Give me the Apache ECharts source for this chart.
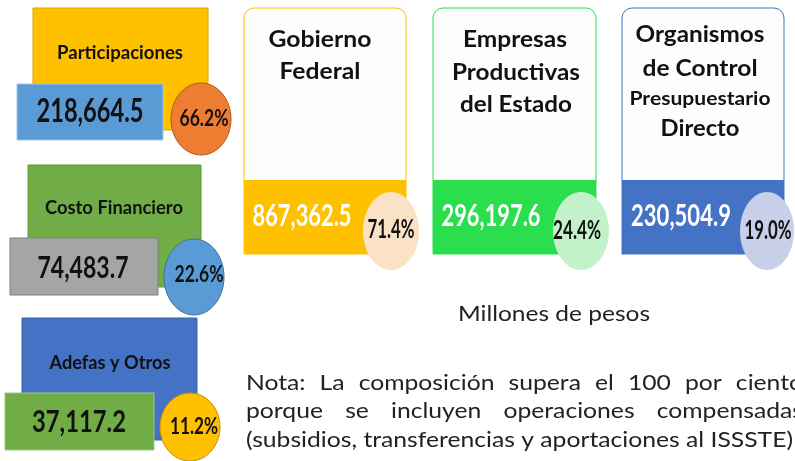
<!DOCTYPE html>
<html>
<head>
<meta charset="utf-8">
<script src="https://cdn.jsdelivr.net/npm/echarts@6/dist/echarts.min.js"></script>
<style>
  html, body { margin: 0; padding: 0; background: #fff; }
  #main { width: 795px; height: 461px; }
</style>
</head>
<body>
<div id="main"></div>
<script>
// datos
var leftLabels = ['Participaciones', 'Costo Financiero', 'Adefas y Otros'];
var leftValues = [218664.5, 74483.7, 37117.2];
var leftShares = [66.2, 22.6, 11.2];

var cardTitles = [
  ['Gobierno', 'Federal'],
  ['Empresas', 'Productivas', 'del Estado'],
  ['Organismos', 'de Control', 'Presupuestario', 'Directo']
];
var cardValues = [867362.5, 296197.6, 230504.9];
var cardShares = [71.4, 24.4, 19.0];

var unitText = 'Millones de pesos';
var noteLines = [
  'Nota: La composición supera el 100 por ciento',
  'porque se incluyen operaciones compensadas',
  '(subsidios, transferencias y aportaciones al ISSSTE)'
];

var FONT = 'Lato, "Open Sans", sans-serif';
var ctx = document.createElement('canvas').getContext('2d');
function measure(str, font) {
  ctx.font = font;
  return ctx.measureText(str).width;
}
function fmt(v) {
  return v.toLocaleString('en-US', {minimumFractionDigits: 1, maximumFractionDigits: 1});
}
// texto con ancho objetivo (la fuente original es condensada)
function label(str, cx, cy, size, weight, color, width, align) {
  var font = weight + ' ' + size + 'px ' + FONT;
  return {
    type: 'text', x: cx, y: cy, z: 20,
    scaleX: width ? width / measure(str, font) : 1,
    style: {
      text: str, x: 0, y: 0, font: font, fill: color,
      align: align || 'center', verticalAlign: 'middle'
    }
  };
}

var els = [];

// bloques de la izquierda
var leftBox = [
  {bg: [33, 8, 175, 122], bgc: '#FFC000', bgb: '#D9A400', fg: [17, 84, 146, 56], fgc: '#5B9BD5', fgb: '#9DC3E6', c: [201, 119, 30, 36], cc: '#ED7D31', cb: '#AE5A21'},
  {bg: [28, 165, 173, 122], bgc: '#70AD47', bgb: '#5E9A36', fg: [10, 238, 148, 57], fgc: '#A5A5A5', fgb: '#7F7F7F', c: [194, 277, 30, 38], cc: '#5B9BD5', cb: '#41719C'},
  {bg: [22, 318, 175, 122], bgc: '#4472C4', bgb: '#3A62A8', fg: [5, 393, 149, 57], fgc: '#70AD47', fgb: '#9CCB7C', c: [190, 427, 30, 34], cc: '#FFC000', cb: '#BF9000'}
];
var leftTxt = [
  {l: [120, 53, 19, 126], v: [90, 112, 32, 107], p: [204, 119, 22, 49]},
  {l: [114, 208, 19, 138], v: [83, 268, 31, 91], p: [199, 275, 22, 49]},
  {l: [110, 363, 19, 121], v: [79, 422, 31, 94], p: [194, 427, 22, 48]}
];
leftLabels.forEach(function (name, i) {
  var b = leftBox[i], t = leftTxt[i];
  els.push({type: 'rect', z: 1, shape: {x: b.bg[0], y: b.bg[1], width: b.bg[2], height: b.bg[3]},
    style: {fill: b.bgc, stroke: b.bgb, lineWidth: 1}});
  els.push({type: 'rect', z: 2, shape: {x: b.fg[0], y: b.fg[1], width: b.fg[2], height: b.fg[3]},
    style: {fill: b.fgc, stroke: b.fgb, lineWidth: 1}});
  els.push({type: 'ellipse', z: 3, shape: {cx: b.c[0], cy: b.c[1], rx: b.c[2], ry: b.c[3]},
    style: {fill: b.cc, stroke: b.cb, lineWidth: 1}});
  els.push(label(name, t.l[0], t.l[1], t.l[2], 'bold', '#111', t.l[3]));
  els.push(label(fmt(leftValues[i]), t.v[0], t.v[1], t.v[2], 'bold', '#111', t.v[3]));
  els.push(label(leftShares[i].toFixed(1) + '%', t.p[0], t.p[1], t.p[2], 'bold', '#111', t.p[3]));
});

// tarjetas de la derecha
var cards = [
  {x: 244, w: 162, col: '#FFC000', circ: '#FBE2C5', cx: 391, rx: 28},
  {x: 433, w: 163, col: '#2BDE4D', circ: '#C3F2CA', cx: 581, rx: 28},
  {x: 622, w: 162, col: '#4472C4', circ: '#C8CFE8', cx: 767, rx: 27}
];
var titleLay = [
  [[320, 40, 23, 103], [320, 72, 23, 81]],
  [[515, 40, 23, 104], [516, 73, 23, 128], [516, 105, 23, 112]],
  [[700, 35, 23, 129], [700, 69, 23, 115], [700, 99, 18, 141], [700, 129, 23, 79]]
];
var valueLay = [[302, 216, 30, 99], [491, 216, 30, 99], [681, 216, 30, 100]];
var shareLay = [[391, 230, 26, 47], [577, 231, 26, 48], [768, 231, 26, 47]];

cards.forEach(function (c, i) {
  els.push({type: 'rect', z: 1, shape: {x: c.x, y: 8, width: c.w, height: 246, r: [10, 10, 0, 0]},
    style: {fill: '#FDFDFD', stroke: c.col, lineWidth: 1}});
  els.push({type: 'rect', z: 2, shape: {x: c.x, y: 180, width: c.w, height: 74},
    style: {fill: c.col}});
  els.push({type: 'ellipse', z: 3, shape: {cx: c.cx, cy: 231, rx: c.rx, ry: 39},
    style: {fill: c.circ}});
  cardTitles[i].forEach(function (line, k) {
    var L = titleLay[i][k];
    els.push(label(line, L[0], L[1], L[2], 'bold', '#111', L[3]));
  });
  var V = valueLay[i], P = shareLay[i];
  els.push(label(fmt(cardValues[i]), V[0], V[1], V[2], 'bold', '#fff', V[3]));
  els.push(label(cardShares[i].toFixed(1) + '%', P[0], P[1], P[2], 'bold', '#111', P[3]));
});

// unidad y nota
els.push(label(unitText, 554, 314, 21, 'normal', '#222', 192));

var noteFont = 'normal 21px ' + FONT;
var noteScale = 547 / measure(noteLines[2], noteFont);
var noteY = [383, 411, 440];
var noteLeft = 246, noteRight = 803;
noteLines.forEach(function (line, k) {
  if (k === noteLines.length - 1) {
    els.push({type: 'text', x: noteLeft, y: noteY[k], scaleX: noteScale, z: 20,
      style: {text: line, x: 0, y: 0, font: noteFont, fill: '#222', align: 'left', verticalAlign: 'middle'}});
    return;
  }
  // justificado
  var words = line.split(' ');
  var widths = words.map(function (w) { return measure(w, noteFont) * noteScale; });
  var total = widths.reduce(function (a, b) { return a + b; }, 0);
  var gap = (noteRight - noteLeft - total) / (words.length - 1);
  var x = noteLeft;
  words.forEach(function (w, j) {
    els.push({type: 'text', x: x, y: noteY[k], scaleX: noteScale, z: 20,
      style: {text: w, x: 0, y: 0, font: noteFont, fill: '#222', align: 'left', verticalAlign: 'middle'}});
    x += widths[j] + gap;
  });
});

var chart = echarts.init(document.getElementById('main'));
chart.setOption({
  backgroundColor: '#ffffff',
  animation: false,
  graphic: {elements: els}
});
</script>
</body>
</html>
